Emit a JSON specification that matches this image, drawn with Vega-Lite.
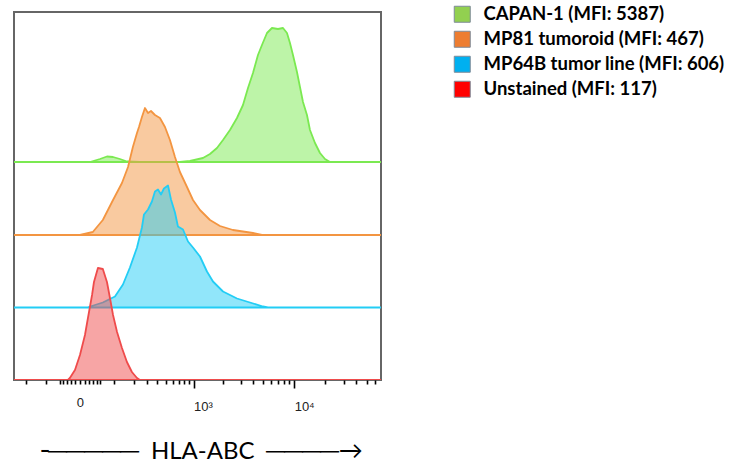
{
  "$schema": "https://vega.github.io/schema/vega-lite/v6.json",
  "width": 367,
  "height": 368,
  "autosize": {"type": "none"},
  "padding": {"left": 14, "top": 12, "right": 351, "bottom": 83},
  "background": "white",
  "config": {
    "view": {"stroke": "#666666", "strokeWidth": 2},
    "font": "Liberation Sans"
  },
  "datasets": {
    "hist": [
      {"s": "CAPAN-1 (MFI: 5387)", "v": -291, "h": 0},
      {"s": "CAPAN-1 (MFI: 5387)", "v": 0, "h": 0},
      {"s": "CAPAN-1 (MFI: 5387)", "v": 22, "h": 0},
      {"s": "CAPAN-1 (MFI: 5387)", "v": 49, "h": 3},
      {"s": "CAPAN-1 (MFI: 5387)", "v": 72, "h": 5.5},
      {"s": "CAPAN-1 (MFI: 5387)", "v": 95, "h": 5},
      {"s": "CAPAN-1 (MFI: 5387)", "v": 125, "h": 3},
      {"s": "CAPAN-1 (MFI: 5387)", "v": 161, "h": 0.5},
      {"s": "CAPAN-1 (MFI: 5387)", "v": 244, "h": 0},
      {"s": "CAPAN-1 (MFI: 5387)", "v": 717, "h": 0},
      {"s": "CAPAN-1 (MFI: 5387)", "v": 917, "h": 1},
      {"s": "CAPAN-1 (MFI: 5387)", "v": 1252, "h": 4},
      {"s": "CAPAN-1 (MFI: 5387)", "v": 1477, "h": 8},
      {"s": "CAPAN-1 (MFI: 5387)", "v": 1739, "h": 14},
      {"s": "CAPAN-1 (MFI: 5387)", "v": 2000, "h": 22},
      {"s": "CAPAN-1 (MFI: 5387)", "v": 2349, "h": 32},
      {"s": "CAPAN-1 (MFI: 5387)", "v": 2757, "h": 44},
      {"s": "CAPAN-1 (MFI: 5387)", "v": 3162, "h": 57},
      {"s": "CAPAN-1 (MFI: 5387)", "v": 3543, "h": 74},
      {"s": "CAPAN-1 (MFI: 5387)", "v": 3966, "h": 89},
      {"s": "CAPAN-1 (MFI: 5387)", "v": 4440, "h": 107},
      {"s": "CAPAN-1 (MFI: 5387)", "v": 4860, "h": 117},
      {"s": "CAPAN-1 (MFI: 5387)", "v": 5440, "h": 129},
      {"s": "CAPAN-1 (MFI: 5387)", "v": 6086, "h": 134},
      {"s": "CAPAN-1 (MFI: 5387)", "v": 6963, "h": 133},
      {"s": "CAPAN-1 (MFI: 5387)", "v": 7790, "h": 134},
      {"s": "CAPAN-1 (MFI: 5387)", "v": 8518, "h": 129},
      {"s": "CAPAN-1 (MFI: 5387)", "v": 9110, "h": 119},
      {"s": "CAPAN-1 (MFI: 5387)", "v": 9740, "h": 107},
      {"s": "CAPAN-1 (MFI: 5387)", "v": 10650, "h": 90},
      {"s": "CAPAN-1 (MFI: 5387)", "v": 11390, "h": 75},
      {"s": "CAPAN-1 (MFI: 5387)", "v": 12180, "h": 60},
      {"s": "CAPAN-1 (MFI: 5387)", "v": 13310, "h": 47},
      {"s": "CAPAN-1 (MFI: 5387)", "v": 14230, "h": 32},
      {"s": "CAPAN-1 (MFI: 5387)", "v": 15910, "h": 19},
      {"s": "CAPAN-1 (MFI: 5387)", "v": 17780, "h": 9},
      {"s": "CAPAN-1 (MFI: 5387)", "v": 19880, "h": 3},
      {"s": "CAPAN-1 (MFI: 5387)", "v": 22210, "h": 0},
      {"s": "CAPAN-1 (MFI: 5387)", "v": 68900, "h": 0},

      {"s": "MP81 tumoroid (MFI: 467)", "v": -291, "h": 0},
      {"s": "MP81 tumoroid (MFI: 467)", "v": 0, "h": 0},
      {"s": "MP81 tumoroid (MFI: 467)", "v": 29, "h": 3},
      {"s": "MP81 tumoroid (MFI: 467)", "v": 58, "h": 15},
      {"s": "MP81 tumoroid (MFI: 467)", "v": 95, "h": 35},
      {"s": "MP81 tumoroid (MFI: 467)", "v": 135, "h": 52},
      {"s": "MP81 tumoroid (MFI: 467)", "v": 167, "h": 68},
      {"s": "MP81 tumoroid (MFI: 467)", "v": 196, "h": 88},
      {"s": "MP81 tumoroid (MFI: 467)", "v": 223, "h": 102},
      {"s": "MP81 tumoroid (MFI: 467)", "v": 237, "h": 108},
      {"s": "MP81 tumoroid (MFI: 467)", "v": 259, "h": 118},
      {"s": "MP81 tumoroid (MFI: 467)", "v": 283, "h": 127},
      {"s": "MP81 tumoroid (MFI: 467)", "v": 309, "h": 122},
      {"s": "MP81 tumoroid (MFI: 467)", "v": 336, "h": 124},
      {"s": "MP81 tumoroid (MFI: 467)", "v": 375, "h": 120},
      {"s": "MP81 tumoroid (MFI: 467)", "v": 429, "h": 117},
      {"s": "MP81 tumoroid (MFI: 467)", "v": 490, "h": 108},
      {"s": "MP81 tumoroid (MFI: 467)", "v": 557, "h": 95},
      {"s": "MP81 tumoroid (MFI: 467)", "v": 633, "h": 78},
      {"s": "MP81 tumoroid (MFI: 467)", "v": 717, "h": 63},
      {"s": "MP81 tumoroid (MFI: 467)", "v": 853, "h": 48},
      {"s": "MP81 tumoroid (MFI: 467)", "v": 986, "h": 35},
      {"s": "MP81 tumoroid (MFI: 467)", "v": 1166, "h": 25},
      {"s": "MP81 tumoroid (MFI: 467)", "v": 1477, "h": 15},
      {"s": "MP81 tumoroid (MFI: 467)", "v": 1865, "h": 9},
      {"s": "MP81 tumoroid (MFI: 467)", "v": 2516, "h": 5},
      {"s": "MP81 tumoroid (MFI: 467)", "v": 3966, "h": 2},
      {"s": "MP81 tumoroid (MFI: 467)", "v": 4860, "h": 0},
      {"s": "MP81 tumoroid (MFI: 467)", "v": 68900, "h": 0},

      {"s": "MP64B tumor line (MFI: 606)", "v": -291, "h": 0},
      {"s": "MP64B tumor line (MFI: 606)", "v": 0, "h": 0},
      {"s": "MP64B tumor line (MFI: 606)", "v": 15, "h": 0},
      {"s": "MP64B tumor line (MFI: 606)", "v": 58, "h": 5},
      {"s": "MP64B tumor line (MFI: 606)", "v": 103, "h": 11},
      {"s": "MP64B tumor line (MFI: 606)", "v": 140, "h": 23},
      {"s": "MP64B tumor line (MFI: 606)", "v": 178, "h": 40},
      {"s": "MP64B tumor line (MFI: 606)", "v": 223, "h": 60},
      {"s": "MP64B tumor line (MFI: 606)", "v": 259, "h": 80},
      {"s": "MP64B tumor line (MFI: 606)", "v": 275, "h": 93},
      {"s": "MP64B tumor line (MFI: 606)", "v": 309, "h": 98},
      {"s": "MP64B tumor line (MFI: 606)", "v": 345, "h": 106},
      {"s": "MP64B tumor line (MFI: 606)", "v": 375, "h": 116},
      {"s": "MP64B tumor line (MFI: 606)", "v": 407, "h": 118},
      {"s": "MP64B tumor line (MFI: 606)", "v": 441, "h": 113},
      {"s": "MP64B tumor line (MFI: 606)", "v": 477, "h": 119},
      {"s": "MP64B tumor line (MFI: 606)", "v": 530, "h": 122},
      {"s": "MP64B tumor line (MFI: 606)", "v": 572, "h": 108},
      {"s": "MP64B tumor line (MFI: 606)", "v": 633, "h": 95},
      {"s": "MP64B tumor line (MFI: 606)", "v": 682, "h": 81},
      {"s": "MP64B tumor line (MFI: 606)", "v": 773, "h": 78},
      {"s": "MP64B tumor line (MFI: 606)", "v": 874, "h": 66},
      {"s": "MP64B tumor line (MFI: 606)", "v": 986, "h": 60},
      {"s": "MP64B tumor line (MFI: 606)", "v": 1166, "h": 51},
      {"s": "MP64B tumor line (MFI: 606)", "v": 1376, "h": 36},
      {"s": "MP64B tumor line (MFI: 606)", "v": 1584, "h": 26},
      {"s": "MP64B tumor line (MFI: 606)", "v": 2000, "h": 16},
      {"s": "MP64B tumor line (MFI: 606)", "v": 2757, "h": 9},
      {"s": "MP64B tumor line (MFI: 606)", "v": 3706, "h": 5},
      {"s": "MP64B tumor line (MFI: 606)", "v": 4972, "h": 1},
      {"s": "MP64B tumor line (MFI: 606)", "v": 5565, "h": 0},
      {"s": "MP64B tumor line (MFI: 606)", "v": 68900, "h": 0},

      {"s": "Unstained (MFI: 117)", "v": -291, "h": 0},
      {"s": "Unstained (MFI: 117)", "v": -27, "h": 0},
      {"s": "Unstained (MFI: 117)", "v": -22, "h": 2},
      {"s": "Unstained (MFI: 117)", "v": -10.3, "h": 10},
      {"s": "Unstained (MFI: 117)", "v": 0, "h": 25},
      {"s": "Unstained (MFI: 117)", "v": 10.3, "h": 45},
      {"s": "Unstained (MFI: 117)", "v": 17, "h": 62},
      {"s": "Unstained (MFI: 117)", "v": 27, "h": 85},
      {"s": "Unstained (MFI: 117)", "v": 32, "h": 98},
      {"s": "Unstained (MFI: 117)", "v": 43, "h": 112},
      {"s": "Unstained (MFI: 117)", "v": 58, "h": 111},
      {"s": "Unstained (MFI: 117)", "v": 72, "h": 98},
      {"s": "Unstained (MFI: 117)", "v": 83, "h": 82},
      {"s": "Unstained (MFI: 117)", "v": 95, "h": 65},
      {"s": "Unstained (MFI: 117)", "v": 112, "h": 48},
      {"s": "Unstained (MFI: 117)", "v": 135, "h": 32},
      {"s": "Unstained (MFI: 117)", "v": 161, "h": 18},
      {"s": "Unstained (MFI: 117)", "v": 190, "h": 8},
      {"s": "Unstained (MFI: 117)", "v": 223, "h": 2},
      {"s": "Unstained (MFI: 117)", "v": 244, "h": 0},
      {"s": "Unstained (MFI: 117)", "v": 68900, "h": 0}
    ]
  },
  "data": {"name": "hist"},
  "transform": [
    {"calculate": "datum.s === 'CAPAN-1 (MFI: 5387)' ? 218 : datum.s === 'MP81 tumoroid (MFI: 467)' ? 145 : datum.s === 'MP64B tumor line (MFI: 606)' ? 72.5 : 0", "as": "base"},
    {"calculate": "datum.base + datum.h", "as": "top"}
  ],
  "encoding": {
    "x": {
      "field": "v",
      "type": "quantitative",
      "scale": {"type": "symlog", "constant": 88, "domain": [-291, 68900], "nice": false, "zero": false},
      "axis": {
        "values": [-200, -100, -50, -40, -30, -20, -10, 0, 10, 20, 30, 40, 50, 100, 200, 300, 400, 500, 600, 700, 800, 900, 1000, 2000, 3000, 4000, 5000, 6000, 7000, 8000, 9000, 10000, 20000, 30000, 40000, 50000, 60000],
        "labelExpr": "datum.value === 0 ? '0' : datum.value === 1000 ? '10³' : datum.value === 10000 ? '10⁴' : ''",
        "labelAlign": {"condition": {"test": "datum.value > 0", "value": "left"}, "value": "center"},
        "labelOverlap": false,
        "labelFlush": false,
        "labelFont": "Liberation Sans",
        "labelFontSize": 13,
        "labelColor": "#222222",
        "labelPadding": 12,
        "domain": false,
        "grid": false,
        "ticks": true,
        "tickColor": "#000000",
        "tickWidth": 1.6,
        "tickSize": {"condition": {"test": "datum.value === 1000 || datum.value === 10000", "value": 8}, "value": 4},
        "title": "╶─────\u00a0\u00a0HLA-ABC\u00a0\u00a0────→",
        "titleFont": "Lato, DejaVu Sans",
        "titleFontSize": 24,
        "titleFontWeight": "normal",
        "titleColor": "#000000",
        "titleX": 184,
        "titleY": 78,
        "titleAlign": "center",
        "titleBaseline": "alphabetic"
      }
    },
    "y": {
      "field": "top",
      "type": "quantitative",
      "stack": null,
      "scale": {"domain": [0, 368], "nice": false, "zero": true},
      "axis": null
    }
  },
  "layer": [
    {
      "mark": {"type": "area", "fillOpacity": 0.5, "strokeWidth": 1.8, "strokeJoin": "round", "clip": true},
      "encoding": {
        "y2": {"field": "base"},
        "fill": {
          "field": "s",
          "type": "nominal",
          "sort": null,
          "scale": {"range": ["#7be951", "#f39541", "#23cdf5", "#ef4b4b"]},
          "legend": null
        },
        "stroke": {
          "field": "s",
          "type": "nominal",
          "sort": null,
          "scale": {"range": ["#7be951", "#f39541", "#23cdf5", "#ef4b4b"]},
          "legend": null
        }
      }
    },
    {
      "transform": [{"filter": "datum.h < 0"}],
      "mark": {"type": "square", "filled": true},
      "encoding": {
        "color": {
          "field": "s",
          "type": "nominal",
          "scale": {"domain": ["CAPAN-1 (MFI: 5387)", "MP81 tumoroid (MFI: 467)", "MP64B tumor line (MFI: 606)", "Unstained (MFI: 117)"], "range": ["#92d050", "#ed7d31", "#00b0f0", "#ff0000"]},
          "legend": {
            "title": null,
            "orient": "none",
            "legendX": 439,
            "legendY": -7,
            "padding": 0,
            "symbolType": "square",
            "symbolSize": 256,
            "symbolOpacity": 1,
            "symbolStrokeColor": "#7f8b98",
            "symbolStrokeWidth": 1,
            "labelFont": "Lato",
            "labelFontSize": 18.5,
            "labelFontWeight": "bold",
            "labelColor": "#000000",
            "labelOffset": 12,
            "labelLimit": 400,
            "rowPadding": 4
          }
        }
      }
    }
  ]
}
